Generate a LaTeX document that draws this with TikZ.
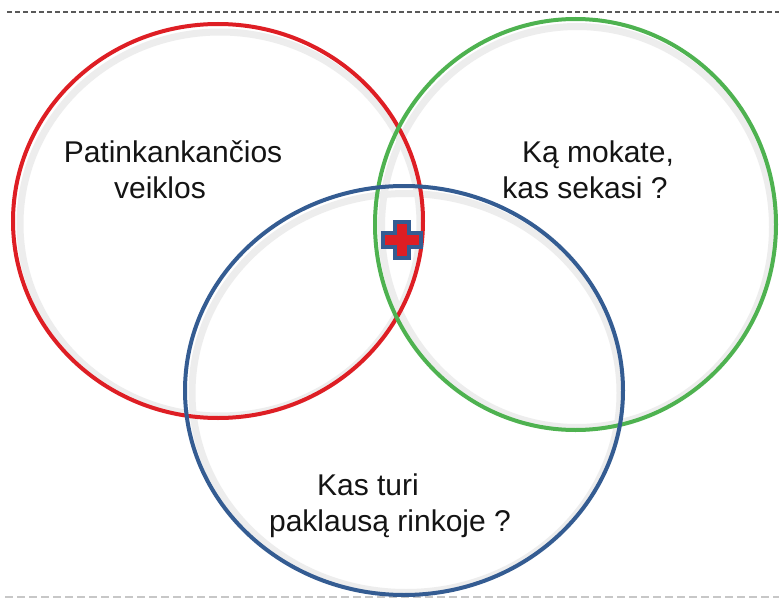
\documentclass[tikz,border=0pt]{standalone}
\usepackage{fontspec}
\setmainfont{Liberation Sans}
\usetikzlibrary{shapes.geometric}
\definecolor{cred}{RGB}{222,30,36}
\definecolor{cgreen}{RGB}{78,178,80}
\definecolor{cblue}{RGB}{52,92,146}
\tikzset{
  ring/.style={ellipse, draw, line width=4pt, inner sep=0pt},
  ringshadow/.style={ellipse, draw=black!7, line width=7pt, inner sep=0pt},
  lbl/.style={font=\fontsize{30}{34}\selectfont, text=black!92, inner sep=0pt, anchor=base},
}
\begin{document}
\begin{tikzpicture}[x=1pt,y=-1pt]
\useasboundingbox (0,0) rectangle (779,599);
\fill[white] (0,0) rectangle (779,599);
% dashed rules
\coordinate (tl) at (7,12);
\coordinate (tr) at (779,12);
\coordinate (bl) at (5,597);
\coordinate (br) at (779,597);
\draw[black!65, line width=1.5pt, dash pattern=on 5pt off 3pt] (tl) -- (tr);
\draw[black!22, line width=1.2pt, dash pattern=on 8pt off 4pt] (bl) -- (br);
% shadows
\node[ringshadow, minimum width=400pt, minimum height=384pt] at (220,224) {};
\node[ringshadow, minimum width=391pt, minimum height=401pt] at (577,227) {};
\node[ringshadow, minimum width=428pt, minimum height=399pt] at (406,393) {};
% circles
\node[ring, draw=cred, minimum width=410pt, minimum height=394pt] (red) at (218,221) {};
\node[ring, draw=cgreen, minimum width=401pt, minimum height=411pt] (green) at (575.5,224.5) {};
\node[ring, draw=cblue, minimum width=438pt, minimum height=409pt] (blue) at (404,390.5) {};
% plus sign
\begin{scope}[shift={(402,240)}]
\draw[fill=cred, draw=cblue, line width=3.5pt, line join=miter]
  (-7,-18) -- (7,-18) -- (7,-7) -- (19,-7) -- (19,7) -- (7,7) -- (7,18) -- (-7,18)
  -- (-7,7) -- (-19,7) -- (-19,-7) -- (-7,-7) -- cycle;
\end{scope}
\node (plus) at (402,240) {};
% labels
\node[lbl] (t1a) at (173,162) {Patinkankančios};
\node[lbl] (t1b) at (160,198) {veiklos};
\node[lbl] (t2a) at (598,162) {Ką mokate,};
\node[lbl] (t2b) at (585,198) {kas sekasi ?};
\node[lbl] (t3a) at (368,495) {Kas turi};
\node[lbl] (t3b) at (390,531) {paklausą rinkoje ?};
\end{tikzpicture}
\end{document}
